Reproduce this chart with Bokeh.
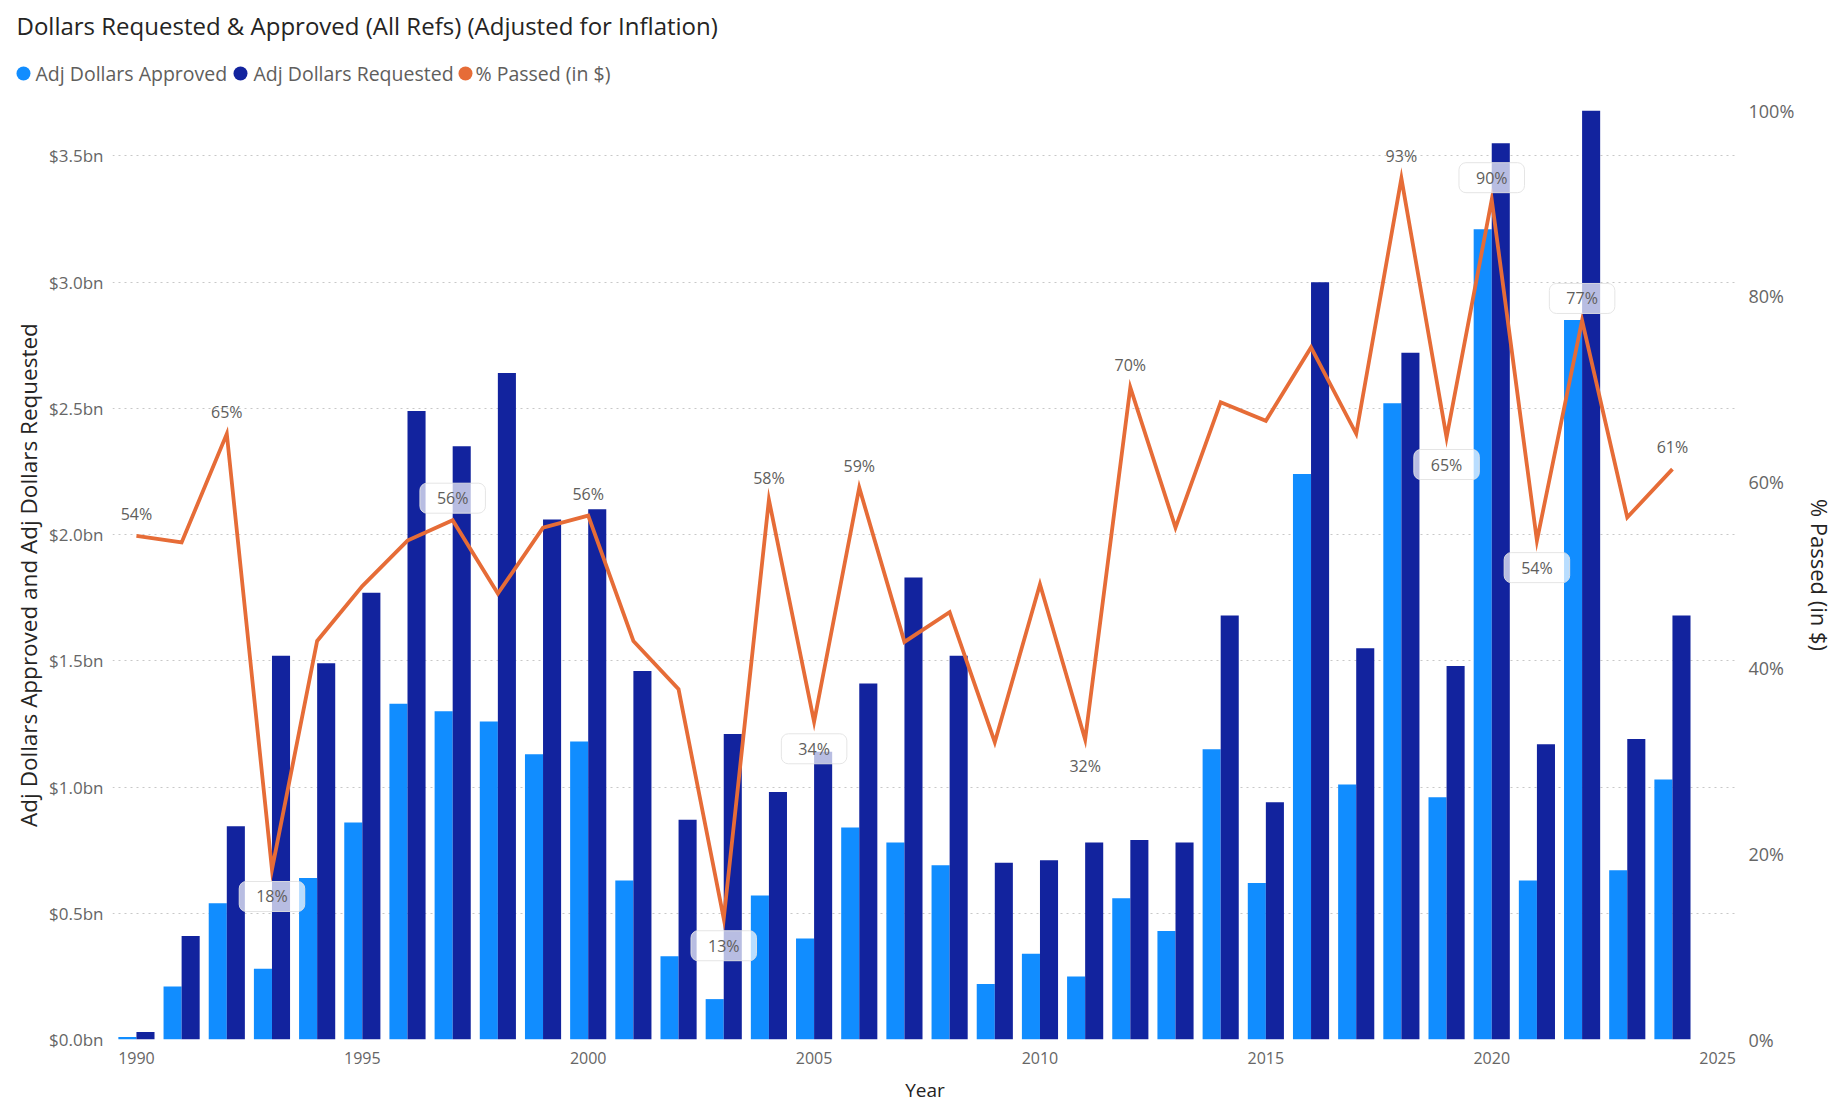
from bokeh.plotting import figure
from bokeh.models import (Range1d, LinearAxis, FixedTicker, PrintfTickFormatter,
                          NumeralTickFormatter, Label, ColumnDataSource)
from bokeh.transform import dodge
from bokeh.core.properties import value
from bokeh.embed import file_html
from bokeh.resources import INLINE

# ---------------- data ----------------
years = list(range(1990, 2025))
approved_bn = [0.01, 0.21, 0.54, 0.28, 0.64, 0.86, 1.33, 1.30, 1.26, 1.13,
               1.18, 0.63, 0.33, 0.16, 0.57, 0.40, 0.84, 0.78, 0.69, 0.22,
               0.34, 0.25, 0.56, 0.43, 1.15, 0.62, 2.24, 1.01, 2.52, 0.96,
               3.21, 0.63, 2.85, 0.67, 1.03]
requested_bn = [0.03, 0.41, 0.845, 1.52, 1.49, 1.77, 2.49, 2.35, 2.64, 2.06,
                2.10, 1.46, 0.87, 1.21, 0.98, 1.14, 1.41, 1.83, 1.52, 0.70,
                0.71, 0.78, 0.79, 0.78, 1.68, 0.94, 3.00, 1.55, 2.72, 1.48,
                3.55, 1.17, 3.68, 1.19, 1.68]
pct_passed = [54.2, 53.5, 65.2, 18.3, 42.9, 48.8, 53.7, 55.9, 48.0, 55.1,
              56.4, 42.9, 37.7, 13.0, 58.1, 34.2, 59.4, 42.8, 46.0, 32.0,
              49.0, 32.3, 70.2, 55.1, 68.6, 66.6, 74.5, 65.2, 92.7, 64.8,
              90.4, 53.7, 77.4, 56.2, 61.4]
labelled_years = [1990, 1992, 1993, 1997, 2000, 2003, 2004, 2005, 2006,
                  2011, 2012, 2018, 2019, 2020, 2021, 2022, 2024]
below_years = [1993, 2003, 2005, 2011, 2019, 2021]
boxed_years = [1993, 1997, 2003, 2005, 2019, 2020, 2021, 2022]
x_ticks = [1990, 1995, 2000, 2005, 2010, 2015, 2020, 2025]
left_ticks = [0.0, 0.5, 1.0, 1.5, 2.0, 2.5, 3.0, 3.5]
right_ticks = [0.0, 0.2, 0.4, 0.6, 0.8, 1.0]

TITLE = "Dollars Requested & Approved (All Refs) (Adjusted for Inflation)"
SERIES = ["Adj Dollars Approved", "Adj Dollars Requested", "% Passed (in $)"]

# ---------------- style ----------------
FONT = "Open Sans"
LIGHT = "#118DFF"
DARK = "#12239E"
ORANGE = "#E66C37"
SERIES_COLORS = [LIGHT, DARK, ORANGE]
TICK_COLOR = "#666666"
LABEL_COLOR = "#252423"
LEGEND_COLOR = "#605E5C"

# header layout (pixels within the header strip)
HEADER_H = 96
TITLE_POS = (16, 25)
LEGEND_Y = 73
LEGEND_DOT_X = [23, 240, 465]
LEGEND_TEXT_X = [35, 253, 475]

# ---------------- header: title + legend (separate root) ----------------
head = figure(width=1838, height=HEADER_H, output_backend="svg", toolbar_location=None,
              x_range=Range1d(0, 1838), y_range=Range1d(HEADER_H, 0),
              x_axis_location=None, y_axis_location=None,
              min_border=0, min_border_left=0, min_border_right=0,
              min_border_top=0, min_border_bottom=0,
              outline_line_color=None, background_fill_color="white",
              border_fill_color="white")
head.grid.visible = False
head.text(x=[TITLE_POS[0]], y=[TITLE_POS[1]], text=[TITLE], text_font=value(FONT),
          text_font_size=value("24px"), text_color=LABEL_COLOR,
          text_baseline="middle", text_align="left")
head.scatter(x=LEGEND_DOT_X, y=[LEGEND_Y] * 3, marker="circle", size=14,
             fill_color=SERIES_COLORS, line_color=None)
head.text(x=LEGEND_TEXT_X, y=[LEGEND_Y] * 3, text=SERIES, text_font=value(FONT),
          text_font_size=value("19.5px"), text_color=LEGEND_COLOR,
          text_baseline="middle", text_align="left")

# ---------------- main chart ----------------
src = ColumnDataSource(dict(year=years, approved=approved_bn, requested=requested_bn,
                            pct=[v / 100 for v in pct_passed]))

p = figure(width=1838, height=1106 - HEADER_H, output_backend="svg",
           toolbar_location=None,
           x_range=Range1d(1989.47, 2025.44), y_range=Range1d(0, max(requested_bn)),
           min_border_left=112, min_border_right=95, min_border_top=14,
           min_border_bottom=67, background_fill_color="white",
           border_fill_color="white", outline_line_color=None)
p.extra_y_ranges = {"pct": Range1d(0, 1)}

# grid
p.xgrid.visible = False
p.ygrid.ticker = FixedTicker(ticks=left_ticks)
p.ygrid.grid_line_color = "#C8C8C8"
p.ygrid.grid_line_dash = "2 4"
p.ygrid.grid_line_width = 1

# x axis
xa = p.xaxis[0]
xa.ticker = FixedTicker(ticks=x_ticks)
xa.axis_label = "Year"

# left axis
ya = p.yaxis[0]
ya.ticker = FixedTicker(ticks=left_ticks)
ya.formatter = PrintfTickFormatter(format="$%.1fbn")
ya.axis_label = "Adj Dollars Approved and Adj Dollars Requested"

# right axis
ra = LinearAxis(y_range_name="pct", ticker=FixedTicker(ticks=right_ticks),
                formatter=NumeralTickFormatter(format="0%"),
                axis_label="% Passed (in $)")
p.add_layout(ra, "right")

for ax in (xa, ya, ra):
    ax.axis_line_color = None
    ax.major_tick_line_color = None
    ax.minor_tick_line_color = None
    ax.major_label_text_font = FONT
    ax.major_label_text_color = TICK_COLOR
    ax.axis_label_text_font = FONT
    ax.axis_label_text_font_style = "normal"
    ax.axis_label_text_color = LABEL_COLOR
xa.major_label_text_font_size = "16px"
ya.major_label_text_font_size = "17px"
ra.major_label_text_font_size = "18px"
xa.axis_label_text_font_size = "19px"
ya.axis_label_text_font_size = "22.5px"
ra.axis_label_text_font_size = "22px"
xa.major_label_standoff = 6
xa.axis_label_standoff = 10
ya.major_label_standoff = 3
ya.axis_label_standoff = 2
ra.major_label_standoff = 5
ra.axis_label_standoff = 8

# bars
p.vbar(x=dodge("year", -0.2), top="approved", width=0.4, fill_color=LIGHT,
       line_color=None, source=src)
p.vbar(x=dodge("year", 0.2), top="requested", width=0.4, fill_color=DARK,
       line_color=None, source=src)

# line
p.line("year", "pct", y_range_name="pct", line_color=ORANGE, line_width=3.8,
       line_join="miter", source=src)

# data labels
for yr in labelled_years:
    v = pct_passed[years.index(yr)]
    lab = Label(x=yr, y=v / 100, y_range_name="pct", text=f"{round(v)}%",
                text_font=FONT, text_font_size="16px", text_color=LEGEND_COLOR,
                text_align="center", text_baseline="middle",
                y_offset=-27 if yr in below_years else 22)
    if yr in boxed_years:
        lab.background_fill_color = "white"
        lab.background_fill_alpha = 0.7
        lab.border_line_color = "#E2E2E2"
        lab.border_line_alpha = 0.9
        lab.padding = (17, 4)
        lab.border_radius = 7
    p.add_layout(lab)

open("out.html", "w").write(file_html([head, p], INLINE))
